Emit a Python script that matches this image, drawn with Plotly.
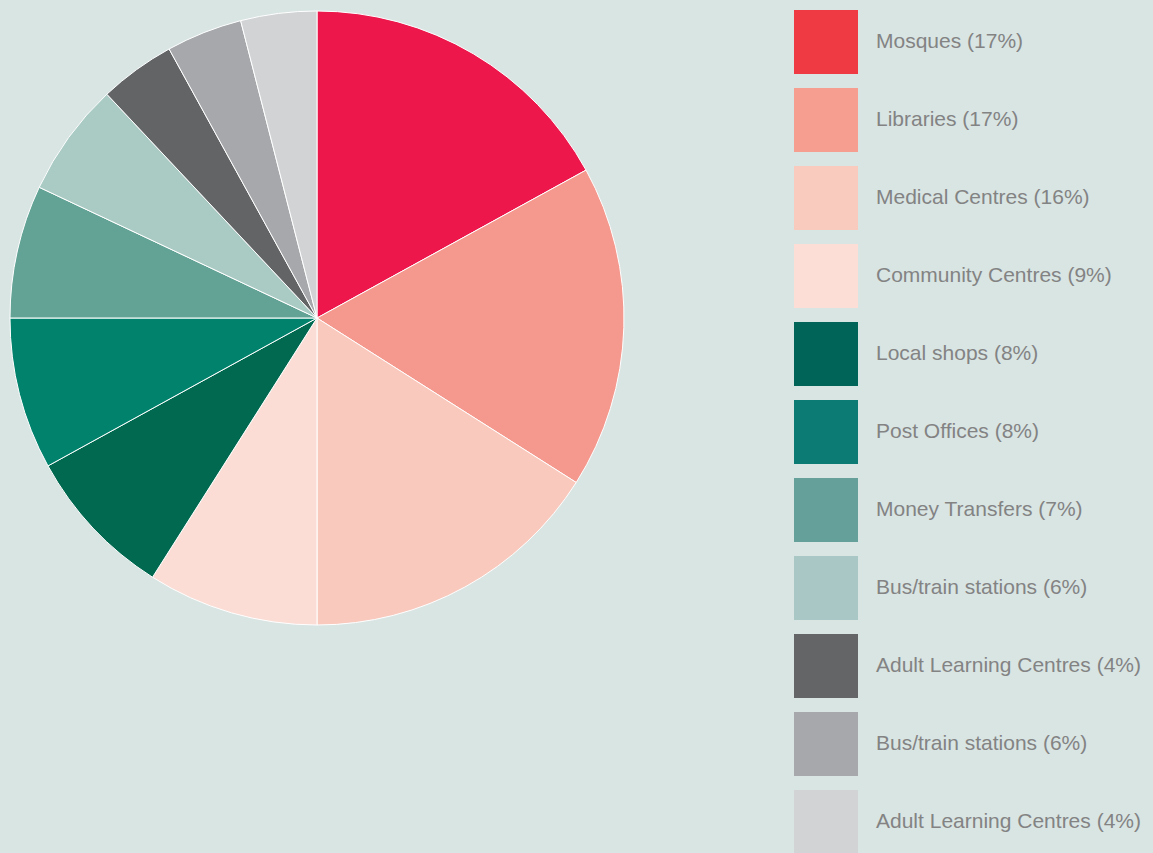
import plotly.graph_objects as go

# Share of visits by place type (percent), clockwise from 12 o'clock
categories = [
    "Mosques", "Libraries", "Medical Centres", "Community Centres",
    "Local shops", "Post Offices", "Money Transfers", "Bus/train stations",
    "Adult Learning Centres", "Bus/train stations", "Adult Learning Centres",
]
values = [17, 17, 16, 9, 8, 8, 7, 6, 4, 4, 4]

# Legend captions as printed beside the swatches
legend_labels = [
    "Mosques (17%)", "Libraries (17%)", "Medical Centres (16%)",
    "Community Centres (9%)", "Local shops (8%)", "Post Offices (8%)",
    "Money Transfers (7%)", "Bus/train stations (6%)",
    "Adult Learning Centres (4%)", "Bus/train stations (6%)",
    "Adult Learning Centres (4%)",
]

slice_colors = [
    "#ED174B", "#F5988D", "#F9C9BD", "#FBDDD5", "#00694F", "#00826C",
    "#62A396", "#A9CBC4", "#636466", "#A7A8AB", "#D1D3D4",
]
swatch_colors = [
    "#F03A43", "#F69E8F", "#F9CBBF", "#FCDED6", "#006558", "#0C7B74",
    "#65A19A", "#A9C7C5", "#636567", "#A7A8AB", "#D1D3D4",
]

W, H = 1153, 853
BG = "#D9E5E3"

fig = go.Figure(
    go.Pie(
        labels=[f"{c} {i}" for i, c in enumerate(categories)],
        values=values,
        sort=False,
        direction="clockwise",
        rotation=0,
        marker=dict(colors=slice_colors, line=dict(color="white", width=1)),
        textinfo="none",
        hoverinfo="skip",
        showlegend=False,
        domain=dict(x=[10 / W, 624 / W], y=[1 - 625 / H, 1 - 11 / H]),
    )
)

# Custom legend: large square swatches with captions
shapes = []
annotations = []
sw_x0, sw_size, top0, pitch = 794, 64, 10, 78
for i, (lab, col) in enumerate(zip(legend_labels, swatch_colors)):
    top = top0 + pitch * i
    shapes.append(dict(
        type="rect", xref="paper", yref="paper",
        x0=sw_x0 / W, x1=(sw_x0 + sw_size) / W,
        y0=1 - (top + sw_size) / H, y1=1 - top / H,
        fillcolor=col, line=dict(width=0), layer="above",
    ))
    annotations.append(dict(
        xref="paper", yref="paper",
        x=874 / W, y=1 - (top + sw_size / 2 - 1.5) / H,
        xanchor="left", yanchor="middle", showarrow=False,
        text=lab, font=dict(family="Arial", size=21, color="#838383"),
    ))

fig.update_layout(
    width=W, height=H,
    margin=dict(l=0, r=0, t=0, b=0),
    paper_bgcolor=BG, plot_bgcolor=BG,
    shapes=shapes, annotations=annotations,
)

fig.write_html("out.html")
